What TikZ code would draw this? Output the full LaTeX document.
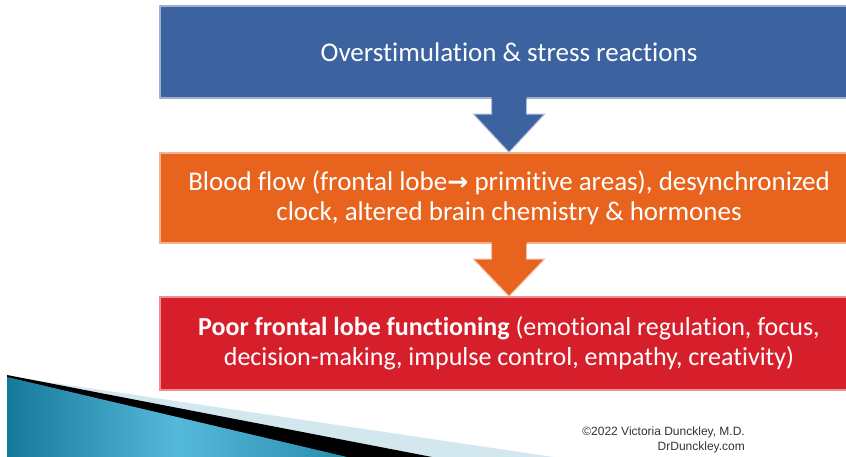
\documentclass[tikz,border=0pt]{standalone}
\usepackage{fontspec}
\setmainfont[Ligatures=NoCommon]{Carlito}
\newfontfamily\symfont{DejaVu Sans}
\newfontfamily\credfont{Liberation Sans}
\usetikzlibrary{calc}
\definecolor{boxblue}{HTML}{3C63A0}
\definecolor{boxorange}{HTML}{E8641E}
\definecolor{boxred}{HTML}{D71F2B}
\definecolor{wedgelight}{HTML}{D3E7EF}
\definecolor{tealdark}{HTML}{17799A}
\definecolor{teallight}{HTML}{55B9DB}
\definecolor{tealmid}{HTML}{2A8DB0}
\newcommand\flowarrow[3]{%
  \fill[#3] ($(#1.south)+(-17.5,-1.5)$) -- ($(#1.south)+(-17.5,15.5)$) -- ($(#1.south)+(-35.5,15.5)$) -- (#2.north)
    -- ($(#1.south)+(35.5,15.5)$) -- ($(#1.south)+(17.5,15.5)$) -- ($(#1.south)+(17.5,-1.5)$) -- cycle;
  \draw[#3!40!white, line width=1pt, line join=miter] ($(#1.south)+(-17.5,0.8)$) -- ($(#1.south)+(-17.5,15.5)$) -- ($(#1.south)+(-35.5,15.5)$) -- (#2.north)
    -- ($(#1.south)+(35.5,15.5)$) -- ($(#1.south)+(17.5,15.5)$) -- ($(#1.south)+(17.5,0.8)$);
}
\begin{document}
\begin{tikzpicture}[x=1pt,y=-1pt,
  flowbox/.style={draw=#1!50!white, fill=#1, line width=1.4pt, minimum width=698pt,
    inner sep=0pt, text=white, align=center, font=\fontsize{27}{30}\selectfont},
  credit/.style={anchor=east, text=black!80, font=\credfont\fontsize{12}{14}\selectfont, inner sep=0pt}]
\useasboundingbox (0,0) rectangle (846,457);
\fill[white] (0,0) rectangle (846,457);

% decorative wedges
\fill[wedgelight] (7,376) -- (553,457) -- (7,457) -- cycle;
\fill[black] (7,375) -- (432,457) -- (7,457) -- cycle;
\shade[left color=tealdark, right color=tealmid, middle color=teallight] (7,377) -- (347,457) -- (7,457) -- cycle;

% boxes
\node[flowbox=boxblue, minimum height=92pt] (b1) at (509,52) {Overstimulation \& stress reactions};
\node[flowbox=boxorange, minimum height=90pt] (b2) at (509,198)
  {Blood flow (frontal lobe{\symfont\bfseries\fontsize{25}{30}\selectfont →} primitive areas), desynchronized\\clock, altered brain chemistry \& hormones};
\node[flowbox=boxred, minimum height=93pt, font=\fontsize{26}{30}\selectfont] (b3) at (509,343.5)
  {\textbf{Poor frontal lobe functioning} (emotional regulation, focus,\\decision-making, impulse control, empathy, creativity)};

% arrows
\flowarrow{b1}{b2}{boxblue}
\flowarrow{b2}{b3}{boxorange}

% credits
\node[credit] (c1) at (745,432) {©2022 Victoria Dunckley, M.D.};
\node[credit] (c2) at (745,447) {DrDunckley.com};
\end{tikzpicture}
\end{document}
